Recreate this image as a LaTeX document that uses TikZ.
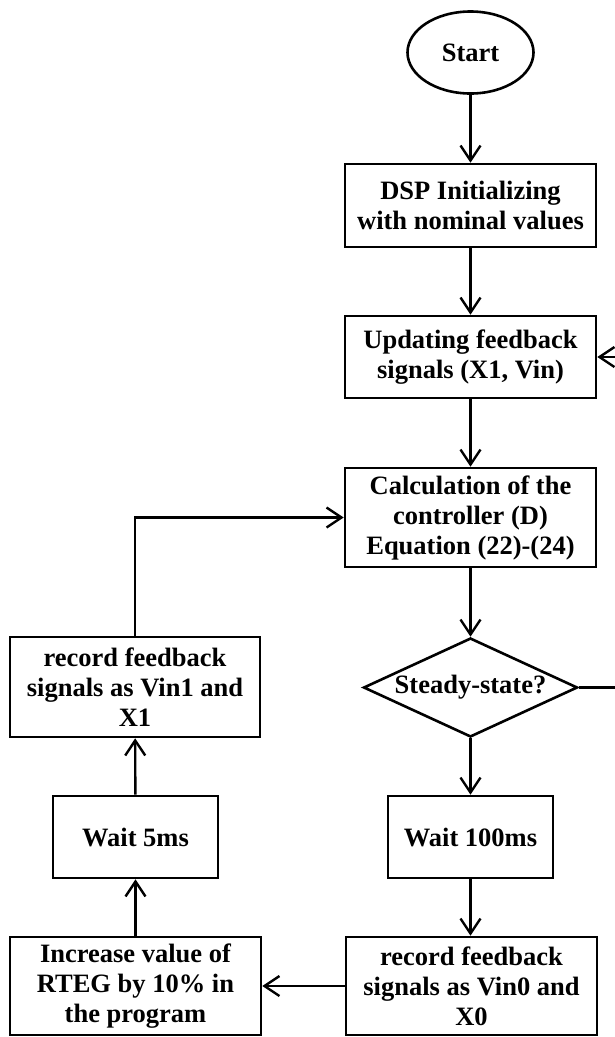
\documentclass[tikz,border=0pt]{standalone}
\usepackage{fontspec}
\setmainfont{Liberation Serif}
\usetikzlibrary{shapes.geometric,arrows.meta}
\begin{document}
\begin{tikzpicture}[x=1pt,y=-1pt,
  every node/.style={font=\bfseries\fontsize{26.5}{30}\selectfont, align=center, line width=2.6pt, inner sep=0pt},
  box/.style={draw, rectangle, minimum width=#1},
  box/.default=251pt,
  conn/.style={line width=2.4pt, -{Straight Barb[length=15pt,width=20pt,line width=2.4pt]}},
  plain/.style={line width=2.4pt}]
\useasboundingbox (0,0) rectangle (615,1037);
\node[draw, ellipse, minimum width=126pt, minimum height=82pt] (start) at (470.5,52.5) {Start};
\node[box, minimum height=83pt] (dsp) at (470.5,205.5) {DSP Initializing\\with nominal values};
\node[box, minimum height=82pt] (upd) at (470.5,357) {Updating feedback\\signals (X1, Vin)};
\node[box, minimum height=99pt] (calc) at (470.5,517.5) {Calculation of the\\controller (D)\\Equation (22)-(24)};
\node[draw, diamond, aspect=2.16, minimum width=214pt, minimum height=99pt] (dia) at (470.5,687.5) {Steady-state?};
\node[box=165pt, minimum height=82pt] (w100) at (470.5,837) {Wait 100ms};
\node[box, minimum height=98pt] (rec0) at (471.5,986) {record feedback\\signals as Vin0 and\\X0};
\node[box, minimum height=98pt] (inc) at (135.5,986) {Increase value of\\RTEG by 10\% in\\the program};
\node[box=165pt, minimum height=82pt] (w5) at (135.5,837) {Wait 5ms};
\node[box=250pt, minimum height=100pt] (rec1) at (135,687) {record feedback\\signals as Vin1 and\\X1};
\coordinate (fbin) at (615,357);
\coordinate (diaout) at (615,687.5);
\draw[conn] (start) -- (dsp);
\draw[conn] (dsp) -- (upd);
\draw[conn] (upd) -- (calc);
\draw[conn] (calc) -- (dia);
\draw[conn] (dia) -- (w100);
\draw[conn] (w100) -- (w100.south |- rec0.north);
\draw[conn] (rec0) -- (inc);
\draw[conn] (inc) -- (w5);
\draw[conn] (w5) -- (rec1);
\draw[conn] (rec1.north) |- (calc.west);
\draw[conn] (fbin) -- (upd.east);
\draw[plain] (dia.east) -- (diaout);
\end{tikzpicture}
\end{document}
